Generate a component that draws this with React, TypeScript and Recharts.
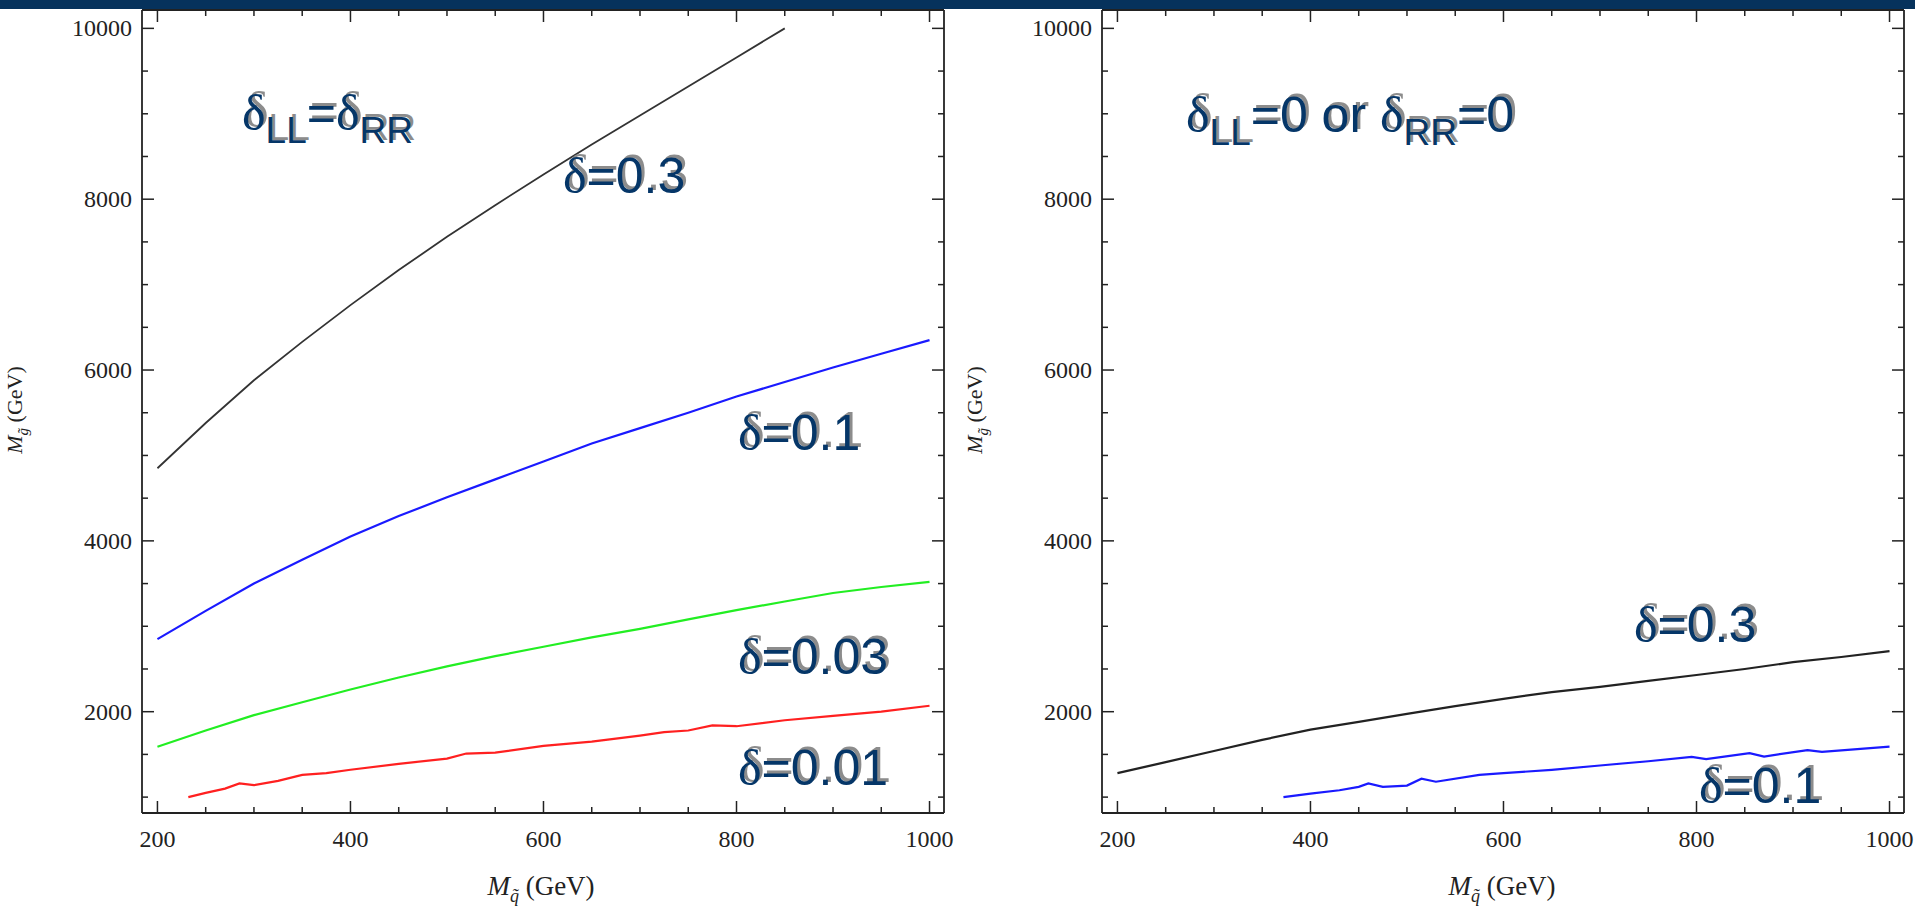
import React from 'react';
import { LineChart, Line, XAxis, YAxis } from 'recharts';

// axis ticks (minor every 50 / 500, labels only on the majors)
const xTicks = [200, 250, 300, 350, 400, 450, 500, 550, 600, 650, 700, 750, 800, 850, 900, 950, 1000];
const xMajor = [200, 400, 600, 800, 1000];
const yTicks = [1000, 1500, 2000, 2500, 3000, 3500, 4000, 4500, 5000, 5500, 6000, 6500, 7000, 7500, 8000, 8500, 9000, 9500, 10000];
const yMajor = [2000, 4000, 6000, 8000, 10000];

// left panel: dLL = dRR
const leftBlackX = [200, 250, 300, 350, 400, 450, 500, 550, 600, 650, 700, 750, 800, 850];
const leftBlackY = [4850, 5380, 5880, 6330, 6760, 7170, 7560, 7930, 8290, 8640, 8980, 9320, 9660, 10000];

const leftBlueX = [200, 250, 300, 350, 400, 450, 500, 550, 600, 650, 700, 750, 800, 850, 900, 950, 1000];
const leftBlueY = [2850, 3180, 3500, 3780, 4050, 4290, 4510, 4720, 4930, 5140, 5320, 5500, 5690, 5860, 6030, 6190, 6350];

const leftGreenX = [200, 250, 300, 350, 400, 450, 500, 550, 600, 650, 700, 750, 800, 850, 900, 950, 1000];
const leftGreenY = [1590, 1780, 1960, 2110, 2260, 2400, 2530, 2650, 2760, 2870, 2970, 3080, 3190, 3290, 3390, 3460, 3520];

const leftRedX = [232, 250, 270, 285, 300, 325, 350, 375, 400, 450, 500, 520, 550, 600, 650, 700, 725, 750, 775, 800, 850, 900, 950, 1000];
const leftRedY = [1000, 1050, 1100, 1160, 1140, 1190, 1260, 1280, 1320, 1390, 1450, 1510, 1520, 1600, 1650, 1720, 1760, 1780, 1840, 1830, 1900, 1950, 2000, 2070];

// right panel: dLL = 0 or dRR = 0
const rightBlackX = [200, 250, 300, 350, 400, 450, 500, 550, 600, 650, 700, 750, 800, 850, 900, 950, 1000];
const rightBlackY = [1280, 1410, 1540, 1670, 1790, 1880, 1975, 2065, 2150, 2230, 2290, 2360, 2430, 2500, 2580, 2640, 2710];

const rightBlueX = [372, 400, 430, 450, 460, 475, 500, 515, 530, 575, 600, 650, 700, 750, 795, 810, 855, 870, 915, 930, 1000];
const rightBlueY = [1000, 1040, 1080, 1120, 1160, 1120, 1135, 1215, 1180, 1260, 1280, 1320, 1370, 1420, 1470, 1445, 1515, 1475, 1550, 1530, 1590];

const zip = (xs: number[], ys: number[]) => xs.map((x, i) => ({ x, y: ys[i] }));

const FRAME = '#222';
const NAVY = '#053668';
const SHADOW = '#8c8c8c';
const tickFont = { fontFamily: '"Liberation Serif", serif', fontSize: 24, fill: '#222' };

const BottomTick = (props: any) => {
  const { x, y, payload } = props;
  const major = xMajor.includes(payload.value);
  return (
    <g>
      <line x1={x} x2={x} y1={y} y2={y - (major ? 12 : 6)} stroke={FRAME} strokeWidth={1.5} />
      {major && (
        <text x={x} y={y + 34} textAnchor="middle" {...tickFont}>
          {payload.value}
        </text>
      )}
    </g>
  );
};

const TopTick = (props: any) => {
  const { x, y, payload } = props;
  const major = xMajor.includes(payload.value);
  return <line x1={x} x2={x} y1={y} y2={y + (major ? 12 : 6)} stroke={FRAME} strokeWidth={1.5} />;
};

const LeftTick = (props: any) => {
  const { x, y, payload } = props;
  const major = yMajor.includes(payload.value);
  return (
    <g>
      <line x1={x} x2={x + (major ? 12 : 6)} y1={y} y2={y} stroke={FRAME} strokeWidth={1.5} />
      {major && (
        <text x={x - 10} y={y + 8} textAnchor="end" {...tickFont}>
          {payload.value}
        </text>
      )}
    </g>
  );
};

const RightTick = (props: any) => {
  const { x, y, payload } = props;
  const major = yMajor.includes(payload.value);
  return <line x1={x} x2={x - (major ? 12 : 6)} y1={y} y2={y} stroke={FRAME} strokeWidth={1.5} />;
};

interface Series {
  data: { x: number; y: number }[];
  color: string;
  width: number;
}

const Panel: React.FC<{ series: Series[]; left: number }> = ({ series, left }) => (
  <div style={{ position: 'absolute', left, top: 0 }}>
    <LineChart width={960} height={913} margin={{ top: 9, right: 15, bottom: 99, left: 141 }}>
      <XAxis xAxisId="b" dataKey="x" type="number" domain={[184, 1015]} allowDataOverflow ticks={xTicks}
        interval={0} height={1} tickSize={0} tickMargin={0} tick={BottomTick}
        axisLine={{ stroke: FRAME, strokeWidth: 1.8 }} />
      <XAxis xAxisId="t" orientation="top" dataKey="x" type="number" domain={[184, 1015]} allowDataOverflow
        ticks={xTicks} interval={0} height={1} tickSize={0} tickMargin={0} tick={TopTick}
        axisLine={{ stroke: FRAME, strokeWidth: 1.8 }} />
      <YAxis yAxisId="l" type="number" domain={[814, 10215]} allowDataOverflow ticks={yTicks}
        interval={0} width={1} tickSize={0} tickMargin={0} tick={LeftTick}
        axisLine={{ stroke: FRAME, strokeWidth: 1.8 }} />
      <YAxis yAxisId="r" orientation="right" type="number" domain={[814, 10215]} allowDataOverflow
        ticks={yTicks} interval={0} width={1} tickSize={0} tickMargin={0} tick={RightTick}
        axisLine={{ stroke: FRAME, strokeWidth: 1.8 }} />
      {series.map((s, i) => (
        <Line key={i} xAxisId="b" yAxisId="l" data={s.data} dataKey="y" type="linear"
          stroke={s.color} strokeWidth={s.width} dot={false} activeDot={false}
          isAnimationActive={false} />
      ))}
    </LineChart>
  </div>
);

interface Part {
  t: string;
  sub?: boolean;
  greek?: boolean;
}

const d = (): Part => ({ t: 'δ', greek: true });

const CalloutText: React.FC<{ parts: Part[]; fill: string }> = ({ parts, fill }) => {
  let prevSub = false;
  return (
    <>
      {parts.map((p, i) => {
        const dy = p.sub && !prevSub ? 13 : !p.sub && prevSub ? -13 : 0;
        prevSub = !!p.sub;
        return (
          <tspan key={i} dy={dy} fill={fill} fontSize={p.sub ? 37 : 50}
            fontFamily={p.greek ? '"Liberation Serif", serif' : '"Liberation Sans", Arial, sans-serif'}>
            {p.t}
          </tspan>
        );
      })}
    </>
  );
};

const Callout: React.FC<{ x: number; y: number; parts: Part[] }> = ({ x, y, parts }) => (
  <g>
    <text x={x + 3} y={y - 3}>
      <CalloutText parts={parts} fill={SHADOW} />
    </text>
    <text x={x} y={y}>
      <CalloutText parts={parts} fill={NAVY} />
    </text>
  </g>
);

const XTitle: React.FC<{ cx: number; sub: string }> = ({ cx, sub }) => (
  <text x={cx} y={895} textAnchor="middle" fontFamily='"Liberation Serif", serif' fontSize={27} fill="#222">
    <tspan fontStyle="italic">M</tspan>
    <tspan fontStyle="italic" fontSize={18} dy={7}>{sub}</tspan>
    <tspan dy={-7}>{'  (GeV)'}</tspan>
  </text>
);

const YTitle: React.FC<{ x: number; sub: string }> = ({ x, sub }) => (
  <text transform={`translate(${x},410) rotate(-90)`} textAnchor="middle"
    fontFamily='"Liberation Serif", serif' fontSize={22} fill="#222">
    <tspan fontStyle="italic">M</tspan>
    <tspan fontStyle="italic" fontSize={15} dy={6}>{sub}</tspan>
    <tspan dy={-6}>{'  (GeV)'}</tspan>
  </text>
);

export default function App() {
  const leftSeries: Series[] = [
    { data: zip(leftBlackX, leftBlackY), color: '#333', width: 1.8 },
    { data: zip(leftBlueX, leftBlueY), color: '#1a1aff', width: 2.2 },
    { data: zip(leftGreenX, leftGreenY), color: '#22ee22', width: 2.2 },
    { data: zip(leftRedX, leftRedY), color: '#ff2020', width: 2.2 },
  ];
  const rightSeries: Series[] = [
    { data: zip(rightBlackX, rightBlackY), color: '#222', width: 2.2 },
    { data: zip(rightBlueX, rightBlueY), color: '#1a1aff', width: 2.2 },
  ];

  return (
    <div style={{ position: 'absolute', left: 0, top: 0, width: 1915, height: 913, background: '#fff', overflow: 'hidden' }}>
      <Panel series={leftSeries} left={0} />
      <Panel series={rightSeries} left={960} />
      <div style={{ position: 'absolute', left: 0, top: 0, width: 1915, height: 9, background: '#06325c' }} />
      <svg width={1915} height={913} style={{ position: 'absolute', left: 0, top: 0, pointerEvents: 'none' }}>
        <XTitle cx={541} sub={'q\u0303'} />
        <XTitle cx={1502} sub={'q\u0303'} />
        <YTitle x={22} sub={'g\u0303'} />
        <YTitle x={982} sub={'g\u0303'} />

        <Callout x={242} y={130} parts={[d(), { t: 'LL', sub: true }, { t: '=' }, d(), { t: 'RR', sub: true }]} />
        <Callout x={563} y={193} parts={[d(), { t: '=0.3' }]} />
        <Callout x={738} y={450} parts={[d(), { t: '=0.1' }]} />
        <Callout x={738} y={674} parts={[d(), { t: '=0.03' }]} />
        <Callout x={738} y={785} parts={[d(), { t: '=0.01' }]} />

        <Callout x={1186} y={132}
          parts={[d(), { t: 'LL', sub: true }, { t: '=0 or ' }, d(), { t: 'RR', sub: true }, { t: '=0' }]} />
        <Callout x={1634} y={642} parts={[d(), { t: '=0.3' }]} />
        <Callout x={1699} y={803} parts={[d(), { t: '=0.1' }]} />
      </svg>
    </div>
  );
}
